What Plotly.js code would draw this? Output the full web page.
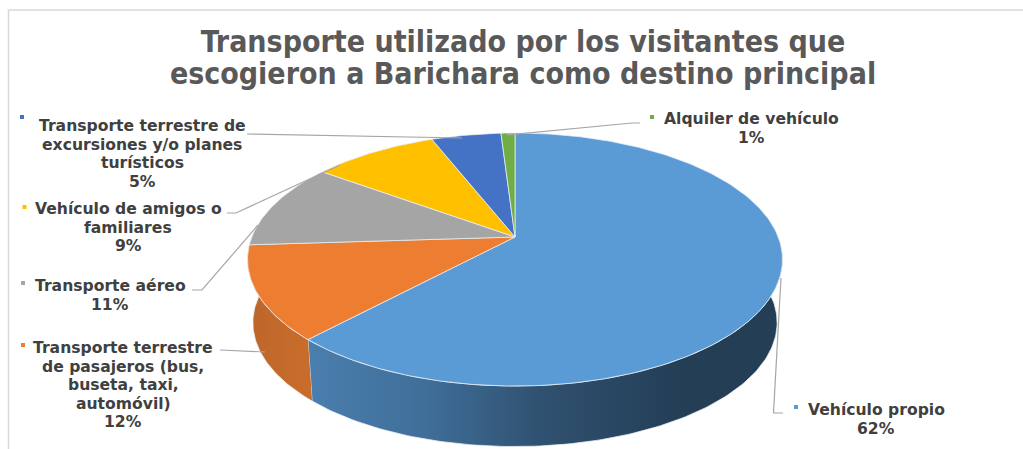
<!DOCTYPE html>
<html><head><meta charset="utf-8">
<script src="https://cdn.plot.ly/plotly-3.0.1.min.js"></script>
<style>html,body{margin:0;padding:0;background:#fff}#c{width:1023px;height:449px}</style>
</head><body><div id="c"></div>
<script>
// Data (clockwise from 12 o'clock)
const categories = ['Vehículo propio','Transporte terrestre<br>de pasajeros (bus,<br>buseta, taxi,<br>automóvil)','Transporte aéreo','Vehículo de amigos o<br>familiares','Transporte terrestre de<br>excursiones y/o planes<br>turísticos','Alquiler de vehículo'];
const shares = [62,12,11,9,5,1];
const colors = ['#5B9BD5','#ED7D31','#A5A5A5','#FFC000','#4472C4','#70AD47'];
const titleText = 'Transporte utilizado por los visitantes que<br>escogieron a Barichara como destino principal';

// Projection of the tilted pie (layout settings, in axis units = px)
const P = {cx:515, cy:237, rx:263.2, ry:122.5, k:0.178, depth:63.5, shrink:0.98};
function proj(deg, bottom){
  const t = deg*Math.PI/180, u = Math.sin(t), v = Math.cos(t), w = 1/(1+P.k*v);
  const x = P.rx*u*w, y = -P.ry*v*w;
  return bottom ? [P.cx+P.shrink*x, P.cy+P.depth+P.shrink*y] : [P.cx+x, P.cy+y];
}
function arc(a,b,bottom){
  const n = Math.max(2,Math.ceil(Math.abs(b-a))), pts=[];
  for(let i=0;i<=n;i++) pts.push(proj(a+(b-a)*i/n,bottom));
  return pts;
}
const traces = [];
const edge = 'rgba(235,240,245,0.75)';
function poly(pts,color,grad){
  const t = {type:'scatter',mode:'lines',x:pts.map(p=>p[0]),y:pts.map(p=>p[1]),fill:'toself',
    fillcolor:color,line:{color:edge,width:1},hoverinfo:'skip',showlegend:false};
  if(grad) t.fillgradient = grad;
  traces.push(t);
}
// cumulative angles
const total = shares.reduce((a,b)=>a+b,0);
let acc = 0; const ang = shares.map(s=>{const a=acc; acc+=s/total*360; return [a,acc];});
// Sides: only the front-facing part of the first two slices
const sideStart = 80, sideEnd = 272;
poly(arc(sideStart,ang[0][1],false).concat(arc(ang[0][1],sideStart,true)),'#2c4a66',
  {type:'horizontal',start:310,stop:780,colorscale:[[0,'#4a7eae'],[0.25,'#3f6e98'],[0.5,'#2f506f'],[0.8,'#233e55'],[1,'#233e55']]});
poly(arc(ang[1][0],sideEnd,false).concat(arc(sideEnd,ang[1][0],true)),'#c0672a',
  {type:'horizontal',start:248,stop:312,colorscale:[[0,'#bd662a'],[1,'#c96d2b']]});
// Top faces
shares.forEach((s,i)=>{
  poly([[P.cx,P.cy]].concat(arc(ang[i][0],ang[i][1],false)).concat([[P.cx,P.cy]]),colors[i]);
});
// Legend keys
const keyX=[796,23,23,24.5,22,652], keyY=[407,345,283,207,117,117];
traces.push({type:'scatter',mode:'markers',x:keyX,y:keyY,hoverinfo:'skip',showlegend:false,
  marker:{symbol:'square',size:4,color:colors}});
// Label placement: centre x and y of first line, line pitch
const labX=[876,123,110,128,142,751], labY=[410,348,286,209,126,119], pitch=18.6;
const annotations = [];
categories.forEach((c,i)=>{
  (c+'<br>'+shares[i]+'%').split('<br>').forEach((line,j)=>{
    annotations.push({xref:'x',yref:'y',x:labX[i],y:labY[i]+j*pitch,xanchor:'center',yanchor:'middle',
      align:'center',showarrow:false,text:line,
      font:{family:'DejaVu Sans',size:15.6,color:'#404040',weight:700}});
  });
});
// Leader lines
const leaders=[
 [[781,278],[773.5,413],[783,413]],
 [[220,350],[265,352]],
 [[192,290],[202,290],[258,225]],
 [[227,213],[236,213],[340,165]],
 [[247,134],[462,138]],
 [[640,123],[632,123],[507,135]]];
const shapes = leaders.map(l=>({type:'path',xref:'x',yref:'y',
  path:'M'+l.map(p=>p.join(',')).join('L'),line:{color:'#a6a6a6',width:1.2}}));
shapes.push({type:'path',xref:'x',yref:'y',path:'M8.5,449L8.5,10L1023,10',line:{color:'#d9d9d9',width:1.5}});
const layout = {width:1023,height:449,margin:{l:0,r:0,t:0,b:0},paper_bgcolor:'#fff',plot_bgcolor:'#fff',
  title:{text:titleText,x:523/1023,xanchor:'center',y:0.884,yanchor:'middle',font:{family:'DejaVu Sans Condensed',size:30,color:'#595959',weight:700}},
  xaxis:{range:[0,1023],visible:false,fixedrange:true},
  yaxis:{range:[449,0],visible:false,fixedrange:true},
  showlegend:false,annotations,shapes};
Plotly.newPlot('c',traces,layout,{displayModeBar:false,staticPlot:true}).then(()=>{
  // tighten the title's line pitch to the reference's
  const lines = document.querySelectorAll('.gtitle tspan.line');
  if(lines.length>1) lines[1].setAttribute('dy','32px');
});
</script></body></html>
